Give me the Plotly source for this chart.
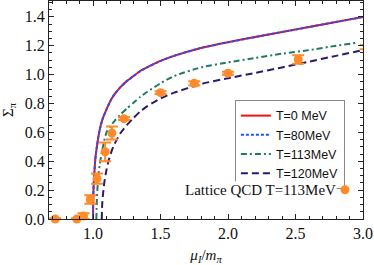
import plotly.graph_objects as go

# Curves
x_t0 = [1.0, 1.002, 1.005, 1.01, 1.015, 1.02, 1.03, 1.04, 1.05, 1.07, 1.1, 1.13, 1.16, 1.2, 1.25, 1.3, 1.35, 1.4, 1.5, 1.6, 1.8, 2.0, 2.2, 2.4, 2.6, 2.8, 3.0]
y_t0 = [0.0, 0.15, 0.24, 0.32, 0.39, 0.44, 0.51, 0.57, 0.62, 0.69, 0.76, 0.82, 0.865, 0.91, 0.955, 0.99, 1.025, 1.05, 1.095, 1.13, 1.185, 1.225, 1.26, 1.295, 1.33, 1.365, 1.40]

x_t80 = [1.0, 1.002, 1.005, 1.01, 1.015, 1.02, 1.03, 1.04, 1.05, 1.07, 1.1, 1.13, 1.16, 1.2, 1.25, 1.3, 1.35, 1.4, 1.5, 1.6, 1.8, 2.0, 2.2, 2.4, 2.6, 2.8, 3.0]
y_t80 = [0.0, 0.15, 0.24, 0.32, 0.39, 0.44, 0.51, 0.57, 0.62, 0.69, 0.76, 0.82, 0.865, 0.91, 0.955, 0.99, 1.025, 1.05, 1.095, 1.13, 1.185, 1.225, 1.26, 1.295, 1.33, 1.365, 1.40]

x_t113 = [1.025, 1.028, 1.032, 1.04, 1.05, 1.065, 1.08, 1.1, 1.13, 1.16, 1.2, 1.25, 1.3, 1.35, 1.4, 1.5, 1.6, 1.8, 2.0, 2.2, 2.4, 2.6, 2.8, 2.95]
y_t113 = [0.0, 0.12, 0.2, 0.3, 0.38, 0.46, 0.53, 0.60, 0.645, 0.68, 0.72, 0.765, 0.805, 0.845, 0.88, 0.94, 0.99, 1.05, 1.085, 1.115, 1.145, 1.17, 1.20, 1.22]

x_t120 = [1.065, 1.068, 1.075, 1.085, 1.1, 1.12, 1.15, 1.2, 1.25, 1.3, 1.35, 1.4, 1.5, 1.6, 1.8, 2.0, 2.2, 2.4, 2.6, 2.8, 3.0]
y_t120 = [0.0, 0.1, 0.18, 0.26, 0.34, 0.42, 0.5, 0.59, 0.65, 0.70, 0.745, 0.78, 0.835, 0.875, 0.935, 0.975, 1.012, 1.05, 1.09, 1.13, 1.17]

# Lattice QCD T=113 MeV
lat_x = [0.72, 0.88, 0.93, 0.98, 1.03, 1.09, 1.14, 1.23, 1.50, 1.75, 2.00, 2.52, 3.02]
lat_y = [0.0, 0.0, 0.02, 0.135, 0.28, 0.465, 0.595, 0.695, 0.875, 0.94, 1.01, 1.105, 1.19]
lat_err = [0.005, 0.005, 0.02, 0.03, 0.035, 0.065, 0.045, 0.01, 0.01, 0.015, 0.01, 0.03, 0.015]

x_ticks = [1.0, 1.5, 2.0, 2.5, 3.0]
y_ticks = [0.0, 0.2, 0.4, 0.6, 0.8, 1.0, 1.2, 1.4]

ORANGE = "#ff8a2a"
serif = "Liberation Serif"
sans = "Liberation Sans"

fig = go.Figure()
fig.add_trace(go.Scatter(x=x_t0, y=y_t0, mode="lines", name="T=0 MeV",
                         line=dict(color="#ee1111", width=2, shape="spline", smoothing=0.6)))
fig.add_trace(go.Scatter(x=x_t80, y=y_t80, mode="lines", name="T=80MeV",
                         line=dict(color="#1f4fff", width=2, dash="3px,2px", shape="spline", smoothing=0.6)))
fig.add_trace(go.Scatter(x=x_t113, y=y_t113, mode="lines", name="T=113MeV",
                         line=dict(color="#1e7a62", width=2, dash="6px,3px,2px,3px", shape="spline", smoothing=0.6)))
fig.add_trace(go.Scatter(x=x_t120, y=y_t120, mode="lines", name="T=120MeV",
                         line=dict(color="#2d1a6b", width=2, dash="7px,4px", shape="spline", smoothing=0.6)))
fig.add_trace(go.Scatter(x=lat_x, y=lat_y, mode="markers", name="",
                         legend="legend2", cliponaxis=False,
                         marker=dict(color=ORANGE, size=9, symbol="circle"),
                         error_y=dict(type="data", array=lat_err, color=ORANGE, thickness=2, width=6)))

axis_common = dict(showline=True, linecolor="#222", linewidth=1, mirror="allticks",
                   ticks="inside", ticklen=5, tickcolor="#222", showgrid=False, zeroline=False,
                   tickfont=dict(family=serif, size=16, color="#111"))

fig.update_xaxes(range=[0.674, 3.0], tickvals=x_ticks, ticktext=[f"{v:.1f}" for v in x_ticks],
                 minor=dict(dtick=0.1, tick0=0, ticks="inside", ticklen=3, tickcolor="#222"),
                 title=dict(text="<i>μ<sub>I</sub></i>/<i>m<sub>π</sub></i>", font=dict(family=serif, size=15, color="#111"), standoff=9),
                 **axis_common)
fig.update_yaxes(range=[0.0, 1.51], tickvals=y_ticks, ticktext=[f"{v:.1f}" for v in y_ticks],
                 minor=dict(dtick=0.05, tick0=0, ticks="inside", ticklen=3, tickcolor="#222"),
                 title=dict(text="Σ<sub>π</sub>", font=dict(family=serif, size=15, color="#111"), standoff=8),
                 **axis_common)

fig.update_layout(
    width=374, height=265,
    margin=dict(l=49, r=11, t=1, b=46),
    plot_bgcolor="white", paper_bgcolor="white",
    showlegend=True,
    legend=dict(x=0.592, y=0.546, xanchor="left", yanchor="top",
                bordercolor="#888", borderwidth=1, bgcolor="white",
                font=dict(family=sans, size=12.5, color="#111"),
                itemwidth=30, tracegroupgap=0),
    legend2=dict(x=0.879, y=0.133, xanchor="left", yanchor="middle",
                 bgcolor="rgba(0,0,0,0)", borderwidth=0,
                 font=dict(family=serif, size=15), itemwidth=30),
    annotations=[dict(text="Lattice QCD T=113MeV", xref="paper", yref="paper",
                      x=0.917, y=0.133, xanchor="right", yanchor="middle", showarrow=False,
                      bgcolor="white", borderpad=0,
                      font=dict(family=serif, size=15, color="#111"))],
)

fig.write_html("out.html", config={"displayModeBar": False},
               post_script="document.body.style.margin='0';")
